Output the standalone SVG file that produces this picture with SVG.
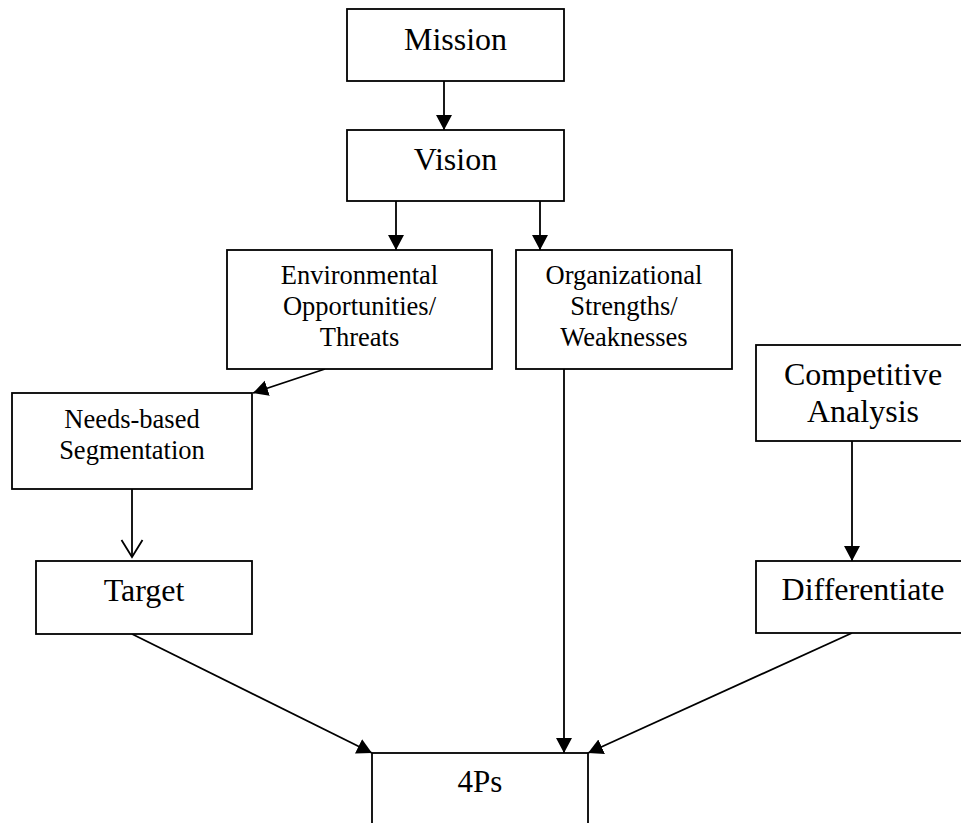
<svg xmlns="http://www.w3.org/2000/svg" width="961" height="823" viewBox="0 0 961 823">
<style>
.box{fill:#fff;stroke:#000;stroke-width:1.8}
.t{font-family:"Liberation Serif","Times New Roman",serif;fill:#000;text-anchor:middle}
.big{font-size:32px}
.sm{font-size:26.5px}
.c{stroke:#000;stroke-width:1.8;fill:none}
</style>
<defs>
<marker id="ah" markerUnits="userSpaceOnUse" markerWidth="16" markerHeight="17" refX="15" refY="8" orient="auto">
<path d="M0,0 L15,8 L0,16 Z" fill="#000"/>
</marker>
<marker id="av" markerUnits="userSpaceOnUse" markerWidth="20" markerHeight="24" refX="18" refY="11.5" orient="auto">
<path d="M1,1 L18,11.5 L1,22" fill="none" stroke="#000" stroke-width="1.8"/>
</marker>
</defs>
<rect width="961" height="823" fill="#fff"/>
<g id="connectors">
<line class="c" x1="444" y1="81" x2="444" y2="130" marker-end="url(#ah)"/>
<line class="c" x1="396" y1="201" x2="396" y2="250" marker-end="url(#ah)"/>
<line class="c" x1="540" y1="201" x2="540" y2="250" marker-end="url(#ah)"/>
<line class="c" x1="325" y1="369" x2="253" y2="393" marker-end="url(#ah)"/>
<line class="c" x1="132" y1="489" x2="132" y2="557" marker-end="url(#av)"/>
<line class="c" x1="852" y1="441" x2="852" y2="561" marker-end="url(#ah)"/>
<line class="c" x1="564" y1="369" x2="564" y2="753" marker-end="url(#ah)"/>
<line class="c" x1="132" y1="634" x2="372" y2="753" marker-end="url(#ah)"/>
<line class="c" x1="852" y1="633" x2="588" y2="753" marker-end="url(#ah)"/>
</g>
<g id="mission">
<rect class="box" x="347" y="9" width="217" height="72"/>
<text class="t big" x="455.5" y="50">Mission</text>
</g>
<g id="vision">
<rect class="box" x="347" y="130" width="217" height="71"/>
<text class="t big" x="455.5" y="170">Vision</text>
</g>
<g id="environmental">
<rect class="box" x="227" y="250" width="265" height="119"/>
<text class="t sm" x="359.5" y="284">Environmental</text>
<text class="t sm" x="359.5" y="315">Opportunities/</text>
<text class="t sm" x="359.5" y="346">Threats</text>
</g>
<g id="organizational">
<rect class="box" x="516" y="250" width="216" height="119"/>
<text class="t sm" x="624" y="284">Organizational</text>
<text class="t sm" x="624" y="315">Strengths/</text>
<text class="t sm" x="624" y="346">Weaknesses</text>
</g>
<g id="competitive">
<rect class="box" x="756" y="345" width="214" height="96"/>
<text class="t big" x="863" y="385">Competitive</text>
<text class="t big" x="863" y="422">Analysis</text>
</g>
<g id="needs">
<rect class="box" x="12" y="393" width="240" height="96"/>
<text class="t sm" x="132" y="428">Needs-based</text>
<text class="t sm" x="132" y="459">Segmentation</text>
</g>
<g id="target">
<rect class="box" x="36" y="561" width="216" height="73"/>
<text class="t big" x="144" y="601">Target</text>
</g>
<g id="differentiate">
<rect class="box" x="756" y="561" width="214" height="72"/>
<text class="t big" x="863" y="600">Differentiate</text>
</g>
<g id="fourps">
<rect class="box" x="372" y="753" width="216" height="90"/>
<text class="t" font-size="31" x="480" y="792">4Ps</text>
</g>
</svg>
